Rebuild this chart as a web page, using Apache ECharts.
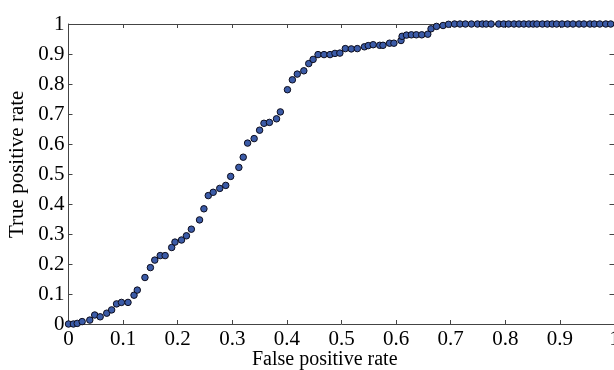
<!DOCTYPE html>
<html>
<head>
<meta charset="utf-8">
<script src="https://cdn.jsdelivr.net/npm/echarts@6/dist/echarts.min.js"></script>
<style>html,body{margin:0;padding:0;background:#fff;}#c{width:614px;height:370px;}</style>
</head>
<body>
<div id="c"></div>
<script>
const fpr = [0, 0.009, 0.016, 0.025, 0.039, 0.048, 0.058, 0.070, 0.079, 0.088, 0.097, 0.109, 0.120, 0.126, 0.140, 0.150, 0.158, 0.168, 0.177, 0.189, 0.195, 0.207, 0.216, 0.225, 0.240, 0.248, 0.256, 0.265, 0.277, 0.288, 0.297, 0.312, 0.320, 0.328, 0.340, 0.350, 0.358, 0.368, 0.381, 0.388, 0.401, 0.410, 0.419, 0.431, 0.440, 0.448, 0.457, 0.468, 0.479, 0.488, 0.497, 0.507, 0.518, 0.529, 0.542, 0.549, 0.558, 0.570, 0.576, 0.588, 0.596, 0.609, 0.611, 0.619, 0.628, 0.637, 0.647, 0.658, 0.664, 0.674, 0.686, 0.696, 0.707, 0.717, 0.727, 0.738, 0.749, 0.758, 0.765, 0.774, 0.788, 0.797, 0.806, 0.816, 0.825, 0.834, 0.843, 0.851, 0.858, 0.868, 0.877, 0.886, 0.894, 0.904, 0.914, 0.924, 0.935, 0.944, 0.955, 0.963, 0.973, 0.984, 0.993];
const tpr = [0, 0, 0.002, 0.008, 0.013, 0.030, 0.024, 0.036, 0.047, 0.067, 0.072, 0.072, 0.096, 0.113, 0.155, 0.188, 0.213, 0.228, 0.228, 0.255, 0.273, 0.280, 0.294, 0.316, 0.347, 0.384, 0.428, 0.439, 0.452, 0.462, 0.492, 0.522, 0.556, 0.603, 0.618, 0.646, 0.669, 0.672, 0.684, 0.707, 0.781, 0.814, 0.833, 0.844, 0.868, 0.882, 0.898, 0.898, 0.898, 0.902, 0.903, 0.918, 0.917, 0.918, 0.924, 0.928, 0.931, 0.929, 0.929, 0.936, 0.936, 0.945, 0.959, 0.963, 0.964, 0.964, 0.964, 0.966, 0.984, 0.992, 0.995, 0.999, 1, 1, 1, 1, 1, 1, 1, 1, 1, 1, 1, 1, 1, 1, 1, 1, 1, 1, 1, 1, 1, 1, 1, 1, 1, 1, 1, 1, 1, 1, 1];
const xTicks = [0, 0.1, 0.2, 0.3, 0.4, 0.5, 0.6, 0.7, 0.8, 0.9, 1];
const yTicks = [0, 0.1, 0.2, 0.3, 0.4, 0.5, 0.6, 0.7, 0.8, 0.9, 1];
const xTitle = 'False positive rate';
const yTitle = 'True positive rate';

const FONT = '"Liberation Serif", "DejaVu Serif", serif';
const points = fpr.map((x, i) => [x, tpr[i]]);
const lineStyle = {color: '#444', width: 1};
const fmt = v => String(+v.toFixed(1));

const chart = echarts.init(document.getElementById('c'), null, {renderer: 'canvas'});
chart.setOption({
  animation: false,
  grid: {left: 68.5, top: 24, right: -0.5, bottom: 46, containLabel: false, outerBoundsMode: 'none'},
  xAxis: [
    {type: 'value', min: 0, max: 1, interval: 0.1, position: 'bottom',
     axisLine: {show: true, onZero: false, lineStyle}, axisTick: {show: true, inside: true, length: 4, lineStyle},
     splitLine: {show: false},
     axisLabel: {show: true, margin: 5, color: '#000', fontFamily: FONT, fontSize: 21, formatter: fmt}},
    {type: 'value', min: 0, max: 1, interval: 0.1, position: 'top',
     axisLine: {show: true, onZero: false, lineStyle}, axisTick: {show: true, inside: true, length: 4, lineStyle},
     splitLine: {show: false}, axisLabel: {show: false}}
  ],
  yAxis: [
    {type: 'value', min: 0, max: 1, interval: 0.1, position: 'left',
     axisLine: {show: true, onZero: false, lineStyle}, axisTick: {show: true, inside: true, length: 4, lineStyle},
     splitLine: {show: false},
     axisLabel: {show: true, margin: 4, color: '#000', fontFamily: FONT, fontSize: 21, formatter: fmt}},
    {type: 'value', min: 0, max: 1, interval: 0.1, position: 'right',
     axisLine: {show: true, onZero: false, lineStyle}, axisTick: {show: true, inside: true, length: 5, lineStyle},
     splitLine: {show: false}, axisLabel: {show: false}}
  ],
  graphic: [
    {type: 'text', left: 252, top: 350, style: {text: xTitle, fill: '#000', font: '20px ' + FONT}},
    {type: 'text', x: 7, y: 238, rotation: Math.PI / 2, style: {text: yTitle, fill: '#000', font: '21px ' + FONT}}
  ],
  series: [{
    type: 'scatter', data: points, symbol: 'circle', symbolSize: 6.5, clip: false,
    itemStyle: {color: '#3b5ba7', borderColor: '#0c0c1c', borderWidth: 1, opacity: 1}
  }]
});
</script>
</body>
</html>
